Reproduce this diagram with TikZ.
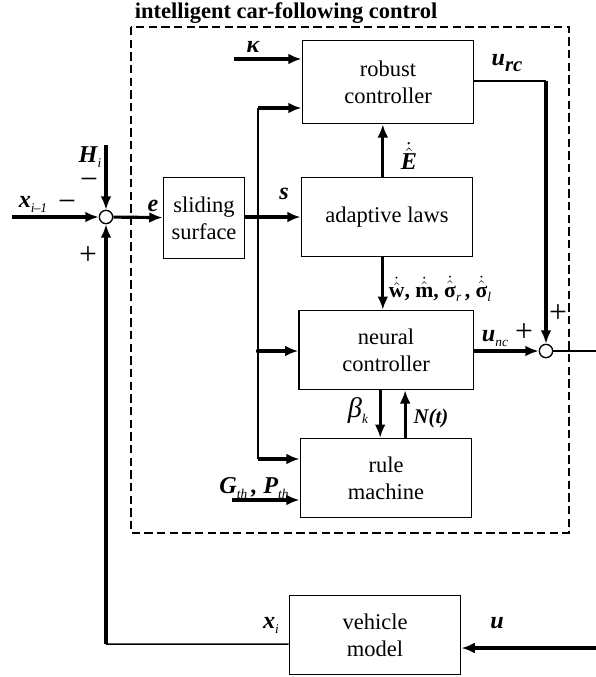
\documentclass[tikz,border=0pt]{standalone}
\usepackage{fontspec}
\setmainfont{Liberation Serif}
\usepackage{amsmath}
\usetikzlibrary{arrows.meta, positioning}

\newcommand{\lsub}[1]{\raisebox{-0.45ex}{\fontsize{8}{8}\selectfont\mdseries\itshape #1}}

\begin{document}
\begin{tikzpicture}[
x=0.6pt, y=-0.6pt,
font=\fontsize{13.5}{16.2}\selectfont,
box/.style={draw,
rectangle,
line width=0.7pt,
minimum width=103pt,
minimum height=47.5pt,
inner sep=0pt,
align=center},
sum/.style={draw, circle, line width=0.8pt, fill=white, minimum size=8pt, inner sep=0pt},
arrow/.style={-{Latex[length=8pt,width=6.5pt]}, line width=1.9pt},
wire/.style={line width=0.9pt},
lbl/.style={font=\fontsize{14.5}{16}\selectfont\bfseries\itshape, inner sep=0pt},
sign/.style={font=\fontsize{19}{19}\selectfont, inner sep=0pt} ]

\useasboundingbox (0,0) rectangle (596,677);

% outer frame
\draw[line width=1.2pt, dash pattern=on 5pt off 2.6pt] (131,27) rectangle (569,533);
\node[font=\fontsize{13.5}{16}\selectfont\bfseries] (title) at (286,13) {intelligent car-following control};

% blocks
\node[box, minimum height=50pt] (robust) at (388,82) {robust\\controller};
\node[box] (adaptive) at (387,217) {adaptive laws};
\node[box, minimum width=104.5pt] (neural) at (386,350) {neural\\controller};
\node[box] (rule) at (386,478) {rule\\machine};
\node[box] (vehicle) at (375,635) {vehicle\\model};
\node[box, minimum width=49pt, minimum height=49pt] (sliding) at (204,218) {sliding\\surface};
\node[sum] (sum1) at (106,217) {};
\node[sum] (sum2) at (546,351) {};

% free ends and corners
\coordinate (xin) at (12,217);
\coordinate (hin) at (106,145);
\coordinate (fb) at (106,644);
\coordinate (split) at (258,217);
\coordinate (stop) at (258,108);
\coordinate (smid) at (258,351);
\coordinate (sbot) at (258,459);
\coordinate (kin) at (234,59);
\coordinate (gin) at (232,500);
\coordinate (rcturn) at (546,81);
\coordinate (out) at (596,351);
\coordinate (uin) at (596,648);

% summing junction 1
\draw[arrow] (xin) -- (sum1);
\draw[arrow] (hin) -- (sum1);
\draw[wire] ([yshift=-5.5pt]vehicle.west) -- (fb);
\draw[arrow] (fb) -- (sum1);
\draw[arrow] (sum1) -- (sliding);

% sliding variable
\draw[arrow] (sliding.east |- split) -- (split -| adaptive.west);
\draw[wire] (stop) -- (sbot);
\draw[arrow] (stop) -- (stop -| robust.west);
\draw[arrow] (smid) -- (smid -| neural.west);
\draw[arrow] (sbot) -- (sbot -| rule.west);
\fill (split) circle (1.3pt);
\fill (smid) circle (1.3pt);
\draw[arrow] (kin) -- (kin -| robust.west);
\draw[arrow] (gin) -- (gin -| rule.west);

% inner signals
\draw[arrow] ([xshift=-2.5pt]adaptive.north) -- ([xshift=-2.5pt]adaptive.north |- robust.south);
\draw[arrow] ([xshift=-2.5pt]adaptive.south) -- ([xshift=-2.5pt]adaptive.south |- neural.north);
\draw[arrow] ([xshift=-3.5pt]neural.south) -- ([xshift=-3.5pt]neural.south |- rule.north);
\draw[arrow] ([xshift=11.5pt]rule.north) -- ([xshift=11.5pt]rule.north |- neural.south);

% summing junction 2
\draw[wire] (robust.east |- rcturn) -- (rcturn);
\draw[arrow] (rcturn) -- (sum2);
\draw[arrow] (neural.east |- sum2) -- (sum2);
\draw[wire] (sum2) -- (out);
\draw[arrow] (uin) -- (uin -| vehicle.east);

% labels
\node[lbl] (l-xprev) at (33,204) {x\lsub{i}\lsub{\kern-0.5pt–1}};
\node[sign] (m-x) at (67,206) {−};
\node[lbl] (l-h) at (90,157) {H\lsub{i}};
\node[sign] (m-h) at (89,184) {−};
\node[sign] (p-fb) at (88,256) {+};
\node[lbl] (l-e) at (153,206) {e};
\node[lbl] (l-s) at (284,194) {s};
\node[lbl] (l-k) at (253,47) {κ};
\node[lbl] (l-rc) at (507,63) {u\raisebox{-0.6ex}{\fontsize{12.5}{12}\selectfont rc}};
\node[lbl] (l-e-dot) at (409,156) {$\dot{\hat{\text{\bfseries\itshape E}}}$};
\node[lbl, font=\fontsize{13}{16}\selectfont\bfseries] (l-laws) at (440,289)
  {$\dot{\hat{\text{\bfseries w}}}$, $\dot{\hat{\text{\bfseries m}}}$, $\dot{\hat{\text{\bfseries σ}}}$\lsub{r}\,, $\dot{\hat{\text{\bfseries σ}}}$\lsub{l}};
\node[lbl] (l-nc) at (495,339) {u\lsub{nc}};
\node[sign] (p-nc) at (524,333) {+};
\node[sign] (p-rc) at (558,314) {+};
\node[lbl, font=\fontsize{17}{18}\selectfont\itshape] (l-beta) at (358,411) {β\lsub{k}};
\node[lbl, font=\fontsize{12.5}{14}\selectfont\bfseries\itshape] (l-n) at (431,418) {N(t)};
\node[lbl] (l-g) at (254,488) {G\lsub{th}\,, P\lsub{th}};
\node[lbl] (l-xi) at (271,625) {x\lsub{i}};
\node[lbl] (l-u) at (497,623) {u};

\end{tikzpicture}
\end{document}
